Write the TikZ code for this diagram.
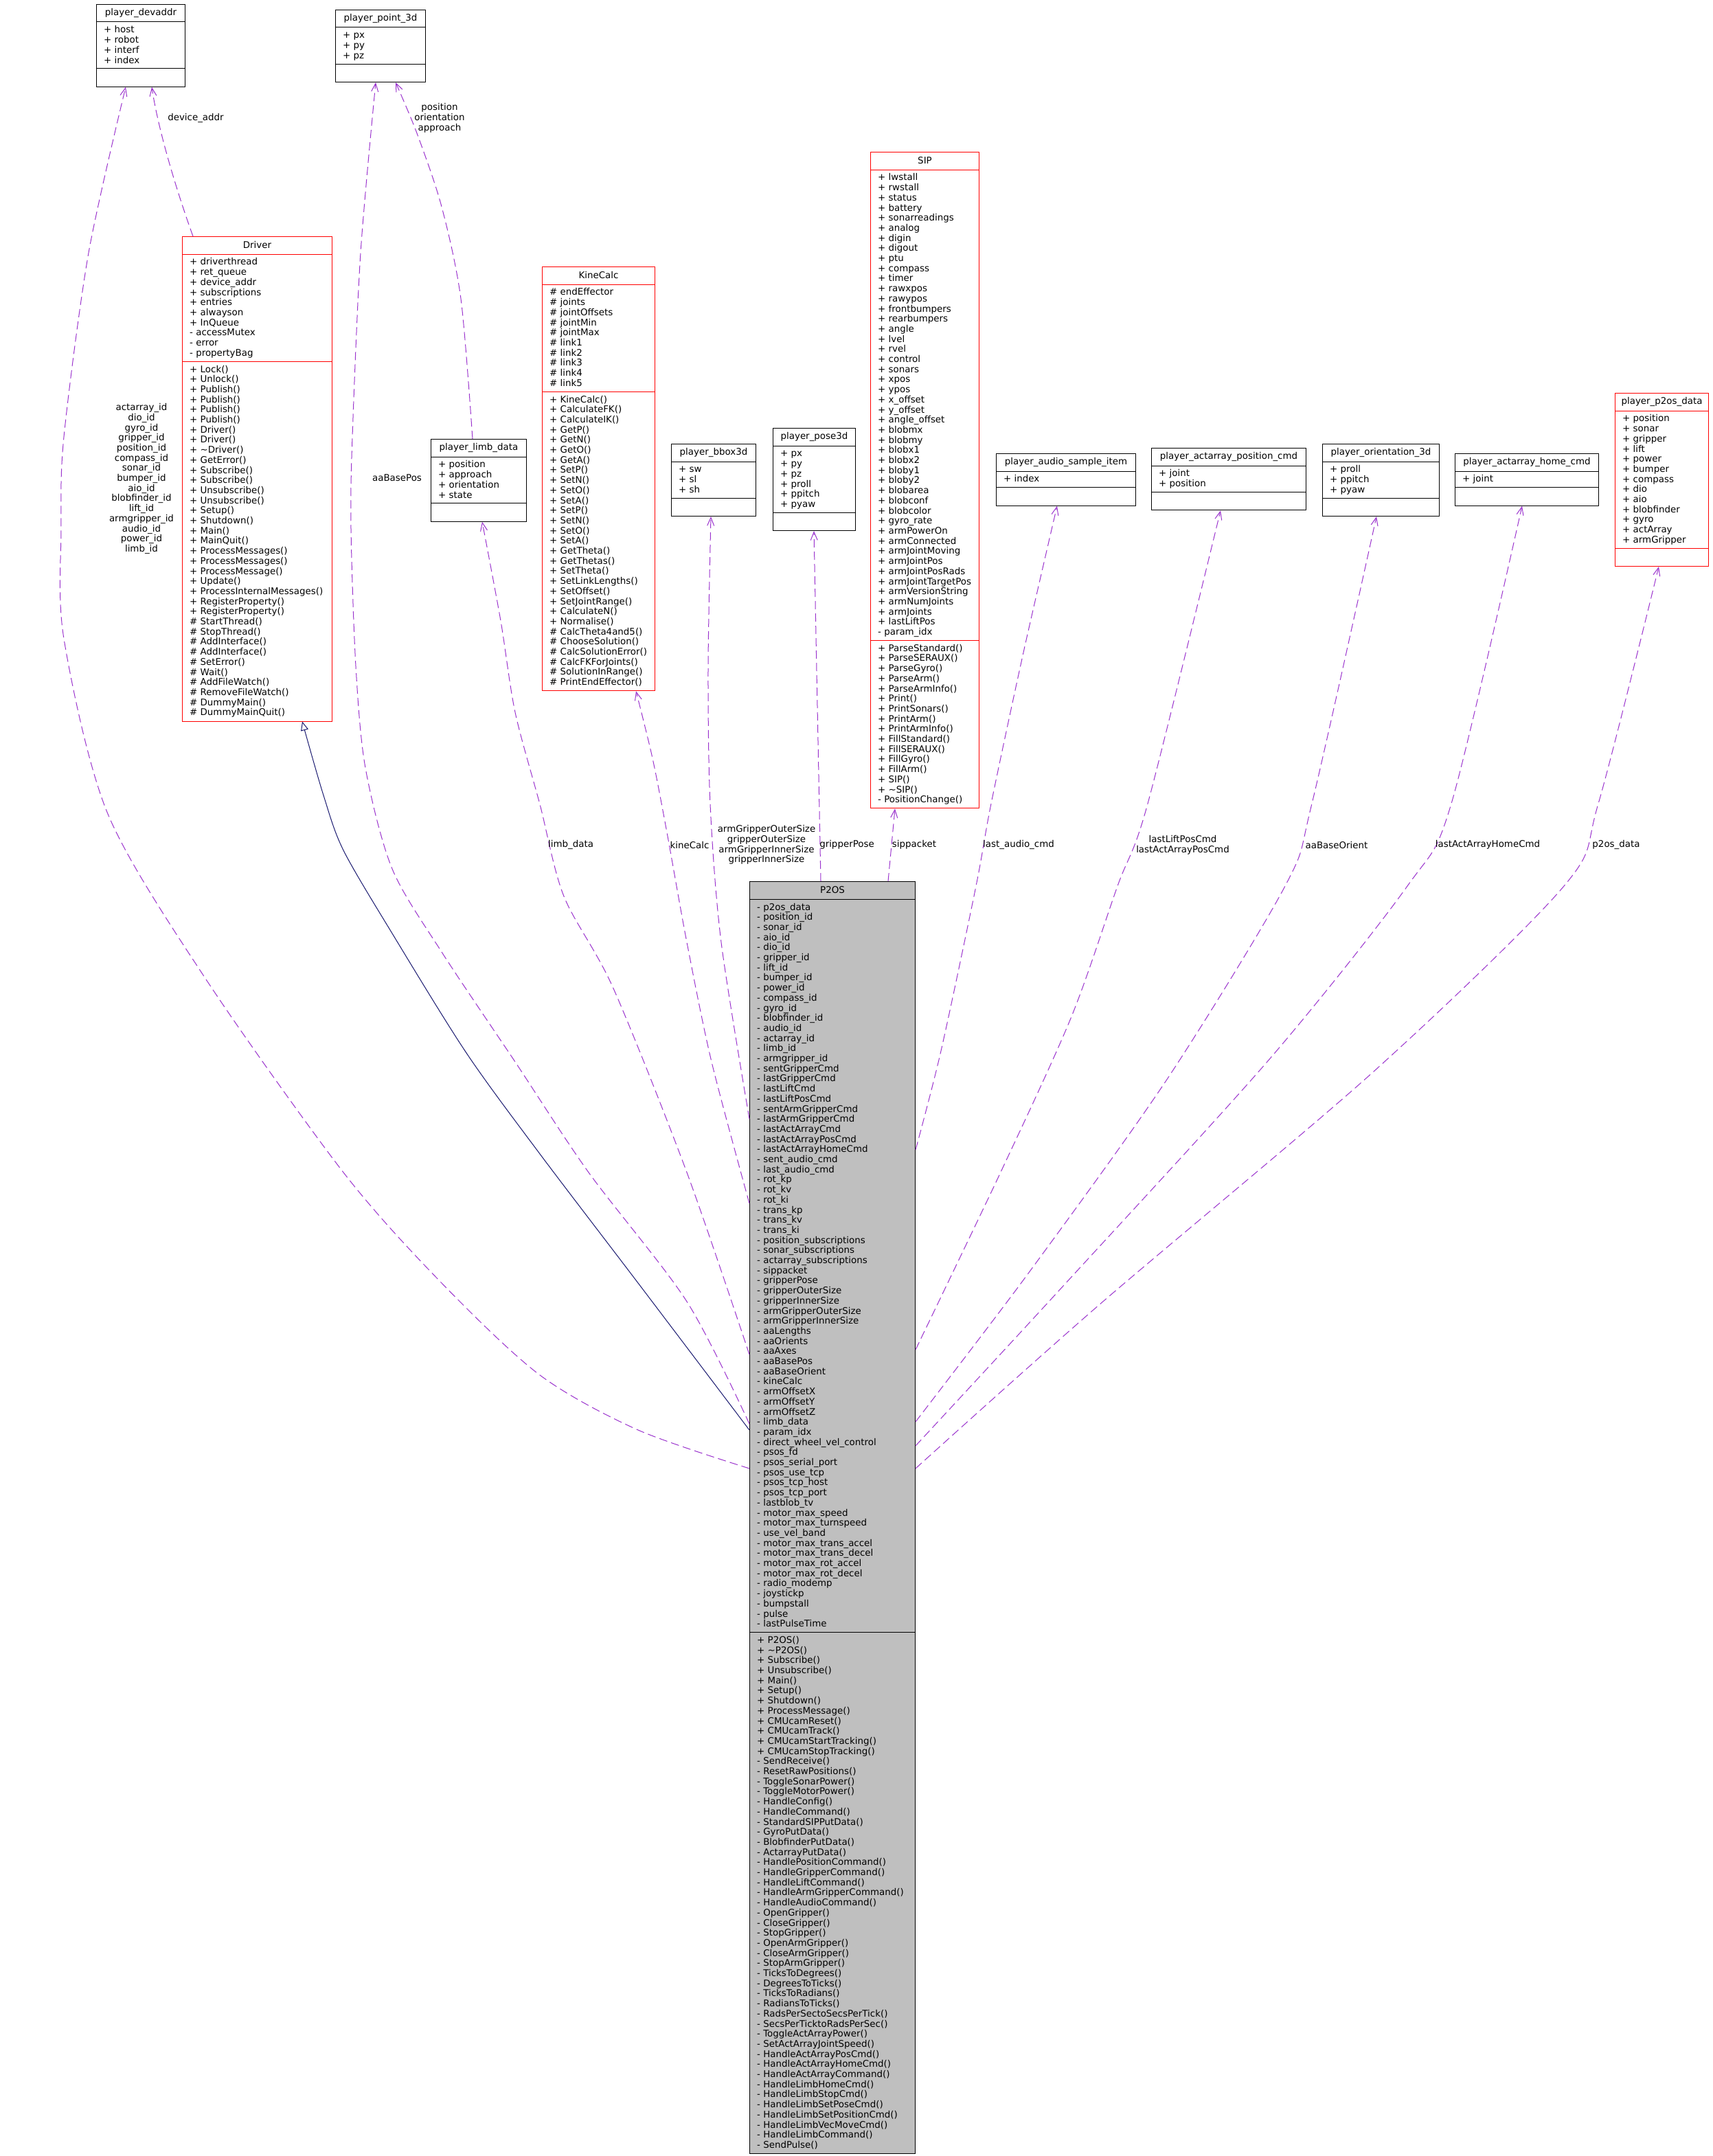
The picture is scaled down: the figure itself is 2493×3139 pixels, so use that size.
\documentclass[tikz,border=0pt]{standalone}
\usepackage{fontspec}
\setmainfont{DejaVu Sans}
\usetikzlibrary{calc,arrows.meta}
\definecolor{edgep}{HTML}{9A32CD}
\definecolor{inh}{HTML}{191970}
\definecolor{p2osfill}{HTML}{BFBFBF}
\definecolor{redb}{HTML}{FF0000}
\newcommand\umlfont{\fontsize{13.4}{14.7}\selectfont}
\tikzset{
  txt/.style={font=\umlfont, inner sep=0pt},
  blk/.style={draw=black, line width=1pt, fill=white},
  rdb/.style={draw=redb, line width=1pt, fill=white},
  gry/.style={draw=black, line width=1pt, fill=p2osfill},
  use/.style={draw=edgep, line width=1pt, dash pattern=on 12pt off 6pt, -{Straight Barb[length=12pt,width=10pt]}},
  inherit/.style={draw=inh, line width=1pt, -{Triangle[open,length=13pt,width=11pt,fill=white]}},
  lbl/.style={txt, align=center},
}
% #1 style, #2 name, #3 x, #4 y, #5 width, #6 title, #7 nAttr, #8 nMeth, #9 attr text; methods in \mtext
\newcommand\classbox[9]{%
  \pgfmathsetmacro\hA{#7==0 ? 26 : #7*14.7+9}%
  \pgfmathsetmacro\hM{#8==0 ? 26 : #8*14.7+9}%
  \pgfmathsetmacro\hT{26+\hA+\hM}%
  \pgfmathsetmacro\yM{26+\hA}%
  \pgfmathsetmacro\yMt{26+\hA+5.5}%
  \node[#1, minimum width=#5pt, minimum height=\hT pt, anchor=north west, inner sep=0pt] (#2) at (#3,#4) {};
  \draw[#1, fill=none] ($(#2.north west)+(0,26)$) -- ($(#2.north east)+(0,26)$);
  \draw[#1, fill=none] ($(#2.north west)+(0,\yM)$) -- ($(#2.north east)+(0,\yM)$);
  \node[txt] (#2-t) at ($(#2.north)+(0,13)$) {#6};
  \node[txt, anchor=north west, align=left] (#2-a) at ($(#2.north west)+(11,31.5)$) {\strut #9};
  \node[txt, anchor=north west, align=left] (#2-m) at ($(#2.north west)+(11,\yMt)$) {\strut \mtext};
}
\begin{document}
\begin{tikzpicture}[x=1pt,y=-1pt]
\fill[white] (0,0) rectangle (2493,3139);
\useasboundingbox (0,0) rectangle (2493,3139);

% ---------- classes ----------
\def\mtext{}
\classbox{blk}{devaddr}{140}{6}{129}{player\_devaddr}{4}{0}{+ host\\+ robot\\+ interf\\+ index}
\classbox{blk}{pointtd}{488}{14}{131}{player\_point\_3d}{3}{0}{+ px\\+ py\\+ pz}
\def\mtext{+ Lock()\\+ Unlock()\\+ Publish()\\+ Publish()\\+ Publish()\\+ Publish()\\+ Driver()\\+ Driver()\\+ \textasciitilde Driver()\\+ GetError()\\+ Subscribe()\\+ Subscribe()\\+ Unsubscribe()\\+ Unsubscribe()\\+ Setup()\\+ Shutdown()\\+ Main()\\+ MainQuit()\\+ ProcessMessages()\\+ ProcessMessages()\\+ ProcessMessage()\\+ Update()\\+ ProcessInternalMessages()\\+ RegisterProperty()\\+ RegisterProperty()\\\# StartThread()\\\# StopThread()\\\# AddInterface()\\\# AddInterface()\\\# SetError()\\\# Wait()\\\# AddFileWatch()\\\# RemoveFileWatch()\\\# DummyMain()\\\# DummyMainQuit()}
\classbox{rdb}{driver}{265}{344}{218}{Driver}{10}{35}{+ driverthread\\+ ret\_queue\\+ device\_addr\\+ subscriptions\\+ entries\\+ alwayson\\+ InQueue\\- accessMutex\\- error\\- propertyBag}
\def\mtext{}
\classbox{blk}{limb}{627}{639}{139}{player\_limb\_data}{4}{0}{+ position\\+ approach\\+ orientation\\+ state}
\def\mtext{+ KineCalc()\\+ CalculateFK()\\+ CalculateIK()\\+ GetP()\\+ GetN()\\+ GetO()\\+ GetA()\\+ SetP()\\+ SetN()\\+ SetO()\\+ SetA()\\+ SetP()\\+ SetN()\\+ SetO()\\+ SetA()\\+ GetTheta()\\+ GetThetas()\\+ SetTheta()\\+ SetLinkLengths()\\+ SetOffset()\\+ SetJointRange()\\+ CalculateN()\\+ Normalise()\\\# CalcTheta4and5()\\\# ChooseSolution()\\\# CalcSolutionError()\\\# CalcFKForJoints()\\\# SolutionInRange()\\\# PrintEndEffector()}
\classbox{rdb}{kine}{789}{388}{164}{KineCalc}{10}{29}{\# endEffector\\\# joints\\\# jointOffsets\\\# jointMin\\\# jointMax\\\# link1\\\# link2\\\# link3\\\# link4\\\# link5}
\def\mtext{}
\classbox{blk}{bbox}{977}{646}{123}{player\_bbox3d}{3}{0}{+ sw\\+ sl\\+ sh}
\classbox{blk}{pose}{1125}{623}{120}{player\_pose3d}{6}{0}{+ px\\+ py\\+ pz\\+ proll\\+ ppitch\\+ pyaw}
\def\mtext{+ ParseStandard()\\+ ParseSERAUX()\\+ ParseGyro()\\+ ParseArm()\\+ ParseArmInfo()\\+ Print()\\+ PrintSonars()\\+ PrintArm()\\+ PrintArmInfo()\\+ FillStandard()\\+ FillSERAUX()\\+ FillGyro()\\+ FillArm()\\+ SIP()\\+ \textasciitilde SIP()\\- PositionChange()}
\classbox{rdb}{sip}{1267}{221}{158}{SIP}{46}{16}{+ lwstall\\+ rwstall\\+ status\\+ battery\\+ sonarreadings\\+ analog\\+ digin\\+ digout\\+ ptu\\+ compass\\+ timer\\+ rawxpos\\+ rawypos\\+ frontbumpers\\+ rearbumpers\\+ angle\\+ lvel\\+ rvel\\+ control\\+ sonars\\+ xpos\\+ ypos\\+ x\_offset\\+ y\_offset\\+ angle\_offset\\+ blobmx\\+ blobmy\\+ blobx1\\+ blobx2\\+ bloby1\\+ bloby2\\+ blobarea\\+ blobconf\\+ blobcolor\\+ gyro\_rate\\+ armPowerOn\\+ armConnected\\+ armJointMoving\\+ armJointPos\\+ armJointPosRads\\+ armJointTargetPos\\+ armVersionString\\+ armNumJoints\\+ armJoints\\+ lastLiftPos\\- param\_idx}
\def\mtext{}
\classbox{blk}{audio}{1450}{660}{203}{player\_audio\_sample\_item}{1}{0}{+ index}
\classbox{blk}{aapos}{1676}{652}{225}{player\_actarray\_position\_cmd}{2}{0}{+ joint\\+ position}
\classbox{blk}{orient}{1925}{646}{170}{player\_orientation\_3d}{3}{0}{+ proll\\+ ppitch\\+ pyaw}
\classbox{blk}{home}{2118}{660}{209}{player\_actarray\_home\_cmd}{1}{0}{+ joint}
\classbox{rdb}{pdata}{2351}{572}{136}{player\_p2os\_data}{13}{0}{+ position\\+ sonar\\+ gripper\\+ lift\\+ power\\+ bumper\\+ compass\\+ dio\\+ aio\\+ blobfinder\\+ gyro\\+ actArray\\+ armGripper}
\def\mtext{+ P2OS()\\+ \textasciitilde P2OS()\\+ Subscribe()\\+ Unsubscribe()\\+ Main()\\+ Setup()\\+ Shutdown()\\+ ProcessMessage()\\+ CMUcamReset()\\+ CMUcamTrack()\\+ CMUcamStartTracking()\\+ CMUcamStopTracking()\\- SendReceive()\\- ResetRawPositions()\\- ToggleSonarPower()\\- ToggleMotorPower()\\- HandleConfig()\\- HandleCommand()\\- StandardSIPPutData()\\- GyroPutData()\\- BlobfinderPutData()\\- ActarrayPutData()\\- HandlePositionCommand()\\- HandleGripperCommand()\\- HandleLiftCommand()\\- HandleArmGripperCommand()\\- HandleAudioCommand()\\- OpenGripper()\\- CloseGripper()\\- StopGripper()\\- OpenArmGripper()\\- CloseArmGripper()\\- StopArmGripper()\\- TicksToDegrees()\\- DegreesToTicks()\\- TicksToRadians()\\- RadiansToTicks()\\- RadsPerSectoSecsPerTick()\\- SecsPerTicktoRadsPerSec()\\- ToggleActArrayPower()\\- SetActArrayJointSpeed()\\- HandleActArrayPosCmd()\\- HandleActArrayHomeCmd()\\- HandleActArrayCommand()\\- HandleLimbHomeCmd()\\- HandleLimbStopCmd()\\- HandleLimbSetPoseCmd()\\- HandleLimbSetPositionCmd()\\- HandleLimbVecMoveCmd()\\- HandleLimbCommand()\\- SendPulse()}
\classbox{gry}{p2os}{1091}{1283}{241}{P2OS}{72}{51}{- p2os\_data\\- position\_id\\- sonar\_id\\- aio\_id\\- dio\_id\\- gripper\_id\\- lift\_id\\- bumper\_id\\- power\_id\\- compass\_id\\- gyro\_id\\- blobfinder\_id\\- audio\_id\\- actarray\_id\\- limb\_id\\- armgripper\_id\\- sentGripperCmd\\- lastGripperCmd\\- lastLiftCmd\\- lastLiftPosCmd\\- sentArmGripperCmd\\- lastArmGripperCmd\\- lastActArrayCmd\\- lastActArrayPosCmd\\- lastActArrayHomeCmd\\- sent\_audio\_cmd\\- last\_audio\_cmd\\- rot\_kp\\- rot\_kv\\- rot\_ki\\- trans\_kp\\- trans\_kv\\- trans\_ki\\- position\_subscriptions\\- sonar\_subscriptions\\- actarray\_subscriptions\\- sippacket\\- gripperPose\\- gripperOuterSize\\- gripperInnerSize\\- armGripperOuterSize\\- armGripperInnerSize\\- aaLengths\\- aaOrients\\- aaAxes\\- aaBasePos\\- aaBaseOrient\\- kineCalc\\- armOffsetX\\- armOffsetY\\- armOffsetZ\\- limb\_data\\- param\_idx\\- direct\_wheel\_vel\_control\\- psos\_fd\\- psos\_serial\_port\\- psos\_use\_tcp\\- psos\_tcp\_host\\- psos\_tcp\_port\\- lastblob\_tv\\- motor\_max\_speed\\- motor\_max\_turnspeed\\- use\_vel\_band\\- motor\_max\_trans\_accel\\- motor\_max\_trans\_decel\\- motor\_max\_rot\_accel\\- motor\_max\_rot\_decel\\- radio\_modemp\\- joystickp\\- bumpstall\\- pulse\\- lastPulseTime}

% ---------- connector end points ----------
\coordinate (a0) at ($(p2os.north west)+(0,855)$);
\coordinate (a1) at ($(devaddr.south west)+(43,0)$);
\coordinate (b0) at ($(driver.north west)+(16,0)$);
\coordinate (b1) at ($(devaddr.south west)+(81,0)$);
\coordinate (c0) at ($(p2os.north west)+(0,799)$);
\coordinate (c1) at ($(driver.south west)+(175,0)$);
\coordinate (d0) at ($(p2os.north west)+(0,790)$);
\coordinate (d1) at ($(pointtd.south west)+(59,0)$);
\coordinate (e0) at ($(limb.north west)+(61,0)$);
\coordinate (e1) at ($(pointtd.south west)+(88,0)$);
\coordinate (f0) at ($(p2os.north west)+(0,689)$);
\coordinate (f1) at ($(limb.south west)+(75,0)$);
\coordinate (g0) at ($(p2os.north west)+(0,469)$);
\coordinate (g1) at ($(kine.south west)+(137,0)$);
\coordinate (h0) at ($(p2os.north west)+(0,346)$);
\coordinate (h1) at ($(bbox.south west)+(58,0)$);
\coordinate (i0) at ($(p2os.north west)+(104,0)$);
\coordinate (i1) at ($(pose.south west)+(60,0)$);
\coordinate (j0) at ($(p2os.north west)+(202,0)$);
\coordinate (j1) at ($(sip.south west)+(36,0)$);
\coordinate (k0) at ($(p2os.north east)+(0,391)$);
\coordinate (k1) at ($(audio.south west)+(89,0)$);
\coordinate (l0) at ($(p2os.north east)+(0,682)$);
\coordinate (l1) at ($(aapos.south west)+(101,0)$);
\coordinate (m0) at ($(p2os.north east)+(0,787)$);
\coordinate (m1) at ($(orient.south west)+(79,0)$);
\coordinate (n0) at ($(p2os.north east)+(0,822)$);
\coordinate (n1) at ($(home.south west)+(98,0)$);
\coordinate (o0) at ($(p2os.north east)+(0,855)$);
\coordinate (o1) at ($(pdata.south west)+(64,0)$);

% ---------- connectors ----------
\draw[use] plot[smooth] coordinates {(a0) (929,2082) (786,2002) (643,1868) (500,1707) (300,1426) (157,1185) (93,930) (89,770) (93,636) (129,368) (a1)};
\draw[use] (b0) .. controls (265,300) and (232,200) .. (b1);
\draw[inherit] plot[smooth] coordinates {(c0) (929,1868) (786,1680) (679,1533) (571,1359) (500,1238) (471,1158) (c1)};
\draw[use] plot[smooth] coordinates {(d0) (1000,1895) (857,1707) (750,1546) (643,1386) (571,1265) (532,1118) (518,970) (511,770) (513,636) (525,368) (d1)};
\draw[use] plot[smooth] coordinates {(e0) (671,435) (643,301) (607,194) (e1)};
\draw[use] plot[smooth] coordinates {(f0) (1000,1707) (893,1439) (821,1305) (786,1171) (750,1037) (729,904) (f1)};
\draw[use] plot[smooth] coordinates {(g0) (1036,1546) (1000,1372) (971,1212) (950,1104) (g1)};
\draw[use] plot[smooth] coordinates {(h0) (1050,1372) (1034,1171) (1031,970) (h1)};
\draw[use] (i0) -- (i1);
\draw[use] (j0) -- (j1);
\draw[use] plot[smooth] coordinates {(k0) (1370,1530) (1421,1290) (1443,1170) (1490,950) (k1)};
\draw[use] plot[smooth] coordinates {(l0) (1460,1700) (1560,1480) (1627,1290) (1671,1170) (l1)};
\draw[use] plot[smooth] coordinates {(m0) (1500,1850) (1700,1570) (1871,1290) (1910,1170) (m1)};
\draw[use] plot[smooth] coordinates {(n0) (1550,1870) (1850,1540) (2049,1290) (2113,1170) (n1)};
\draw[use] plot[smooth] coordinates {(o0) (1600,1900) (2000,1560) (2277,1290) (2327,1170) (o1)};

% ---------- connector labels ----------
\node[lbl] (la) at (206,697) {actarray\_id\\dio\_id\\gyro\_id\\gripper\_id\\position\_id\\compass\_id\\sonar\_id\\bumper\_id\\aio\_id\\blobfinder\_id\\lift\_id\\armgripper\_id\\audio\_id\\power\_id\\limb\_id};
\node[lbl] (lb) at (285,172) {device\_addr};
\node[lbl] (ld) at (578,696) {aaBasePos};
\node[lbl] (le) at (640,172) {position\\orientation\\approach};
\node[lbl] (lf) at (831,1230) {limb\_data};
\node[lbl] (lg) at (1004,1230) {kineCalc};
\node[lbl] (lh) at (1116,1230) {armGripperOuterSize\\gripperOuterSize\\armGripperInnerSize\\gripperInnerSize};
\node[lbl] (li) at (1233,1230) {gripperPose};
\node[lbl] (lj) at (1331,1230) {sippacket};
\node[lbl] (lk) at (1483,1230) {last\_audio\_cmd};
\node[lbl] (ll) at (1722,1230) {lastLiftPosCmd\\lastActArrayPosCmd};
\node[lbl] (lm) at (1946,1230) {aaBaseOrient};
\node[lbl] (ln) at (2166,1230) {lastActArrayHomeCmd};
\node[lbl] (lo) at (2353,1230) {p2os\_data};
\end{tikzpicture}
\end{document}
